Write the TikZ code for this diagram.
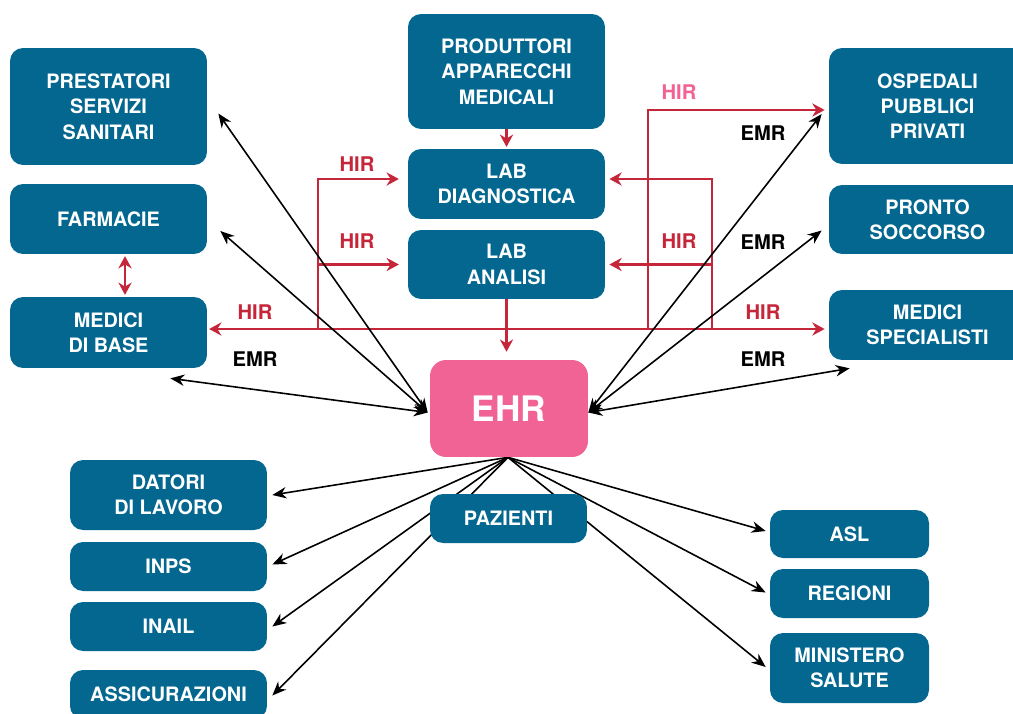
\documentclass[tikz,border=0pt]{standalone}
\usepackage{fontspec}
\setmainfont{TeX Gyre Heros}
\usetikzlibrary{arrows.meta,calc}
\definecolor{boxblue}{RGB}{3,103,143}
\definecolor{ehrpink}{RGB}{240,99,148}
\definecolor{hirred}{RGB}{198,38,58}
\pgfdeclarelayer{bg}
\pgfsetlayers{bg,main}
\tikzset{
    >=Stealth,
    fse/.style={
        x=0.02cm,y=-0.02cm,
        actor/.append style={fill=boxblue,text=white,rounded corners=0.26cm,align=center,inner sep=0pt,minimum width=3.94cm,font=\fontsize{11.3}{14.4}\selectfont\bfseries},
        hub/.append style={fill=ehrpink,text=white,rounded corners=0.32cm,minimum width=3.16cm,minimum height=1.94cm,font=\fontsize{20}{24}\selectfont\bfseries},
        tag/.append style={inner sep=0pt,font=\fontsize{11.5}{14}\selectfont\bfseries},
        hir/.append style={draw=hirred,line width=1.5pt,>={Stealth[length=7pt,width=7.5pt]}},
        emr/.append style={draw=black,line width=0.9pt,>={Stealth[length=8pt,width=6.5pt]}}
    }
}

\begin{document}
\begin{tikzpicture}[fse]
    \useasboundingbox (0,0) rectangle (1013,713);
    \clip (0,0) rectangle (1013,713);

    \node[actor,minimum height=2.34cm] (prest) at (108.5,106.5) {PRESTATORI\\SERVIZI\\SANITARI};
    \node[actor,minimum height=1.4cm] (farm) at (108.5,219) {FARMACIE};
    \node[actor,minimum height=1.42cm] (mdb) at (108.5,332.5) {MEDICI\\DI BASE};

    \node[actor,minimum height=2.3cm] (prod) at (506.5,71.5) {PRODUTTORI\\APPARECCHI\\MEDICALI};
    \node[actor,minimum height=1.4cm] (labd) at (506.5,184) {LAB\\DIAGNOSTICA};
    \node[actor,minimum height=1.38cm] (laba) at (506.5,264.5) {LAB\\ANALISI};
    \node[hub] (ehr) at (509,408.5) {EHR};

    \node[actor,minimum height=2.32cm] (osp) at (927.5,106) {OSPEDALI\\PUBBLICI\\PRIVATI};
    \node[actor,minimum height=1.38cm] (pronto) at (927.5,219.5) {PRONTO\\SOCCORSO};
    \node[actor,minimum height=1.4cm] (mspec) at (927.5,325) {MEDICI\\SPECIALISTI};

    \node[actor,minimum height=1.4cm] (datori) at (168.5,495) {DATORI\\DI LAVORO};
    \node[actor,minimum height=0.98cm] (inps) at (168.5,566.5) {INPS};
    \node[actor,minimum height=0.98cm] (inail) at (168.5,626.5) {INAIL};
    \node[actor,minimum height=0.98cm] (assic) at (168.5,694.5) {ASSICURAZIONI};
    \node[actor,minimum width=3.14cm,minimum height=0.98cm] (paz) at (508.5,518.5) {PAZIENTI};

    \node[actor,minimum width=3.18cm,minimum height=0.96cm] (asl) at (849.5,534) {ASL};
    \node[actor,minimum width=3.18cm,minimum height=0.98cm] (reg) at (849.5,593.5) {REGIONI};
    \node[actor,minimum width=3.18cm,minimum height=1.4cm] (mins) at (849.5,668) {MINISTERO\\SALUTE};

    \node[tag,text=hirred] (h1) at (357,164) {HIR};
    \node[tag,text=hirred] (h2) at (357,241) {HIR};
    \node[tag,text=hirred] (h3) at (255,312) {HIR};
    \node[tag,text=ehrpink] (h4) at (679,92) {HIR};
    \node[tag,text=hirred] (h5) at (679,241) {HIR};
    \node[tag,text=hirred] (h6) at (763,312) {HIR};
    \node[tag] (e1) at (763,133) {EMR};
    \node[tag] (e2) at (763,242) {EMR};
    \node[tag] (e3) at (255,359) {EMR};
    \node[tag] (e4) at (763,359) {EMR};

    \coordinate (jl) at (318,329);
    \coordinate (jo) at (648,329);
    \coordinate (jr) at (712,329);

    \begin{pgfonlayer}{bg}
    \draw[hir,->,shorten >=1pt] (prod.south) -- (labd.north);
    \draw[hir,->,shorten >=4.5pt] (laba.south) -- (laba.south |- ehr.north);
    \draw[hir,<->,shorten <=1pt,shorten >=2.3pt] (mdb.east |- jl) -- (mspec.west |- jl);
    \draw[hir,<->,shorten <=1pt,shorten >=1pt] ($(farm.south)+(16.5,0)$) -- ($(mdb.north)+(16.5,0)$);
    \draw[hir,->,shorten >=5pt] (jl) |- ($(labd.west)+(0,-5)$);
    \draw[hir,->,shorten >=5pt] (jl |- laba.west) -- (laba.west);
    \draw[hir,->,shorten >=2.3pt] (jr) |- ($(labd.east)+(0,-5)$);
    \draw[hir,->,shorten >=2.3pt] (jr |- laba.east) -- (laba.east);
    \draw[hir,->,shorten >=2.3pt] (jo) |- ($(osp.west)+(0,4)$);

    \draw[emr,<->] ($(prest.east)+(11,7)$) -- ($(ehr.west)+(-2,4)$);
    \draw[emr,<->] ($(farm.east)+(13,12)$) -- ($(ehr.west)+(-2,4)$);
    \draw[emr,<->] ($(mdb.south east)+(-37,10)$) -- ($(ehr.west)+(-2,4)$);
    \draw[emr,<->] ($(osp.west)+(-7,8)$) -- ($(ehr.east)+(0,4)$);
    \draw[emr,<->] ($(pronto.west)+(-7,11)$) -- ($(ehr.east)+(0,4)$);
    \draw[emr,<->] ($(mspec.south west)+(21,8)$) -- ($(ehr.east)+(0,4)$);

    \draw[emr,->] ($(ehr.south)+(-1,0)$) -- ($(datori.east)+(5,0)$);
    \draw[emr,->] ($(ehr.south)+(-1,0)$) -- ($(inps.east)+(5,-2)$);
    \draw[emr,->] ($(ehr.south)+(-1,0)$) -- ($(inail.east)+(5,0)$);
    \draw[emr,->] ($(ehr.south)+(-1,0)$) -- ($(assic.east)+(5,1)$);
    \draw[emr,->] ($(ehr.south)+(-1,0)$) -- ($(asl.west)+(-4,-3)$);
    \draw[emr,->] ($(ehr.south)+(-1,0)$) -- ($(reg.west)+(-4,-1)$);
    \draw[emr,->] ($(ehr.south)+(-1,0)$) -- ($(mins.west)+(-4,-1)$);
    \end{pgfonlayer}
\end{tikzpicture}
\end{document}
